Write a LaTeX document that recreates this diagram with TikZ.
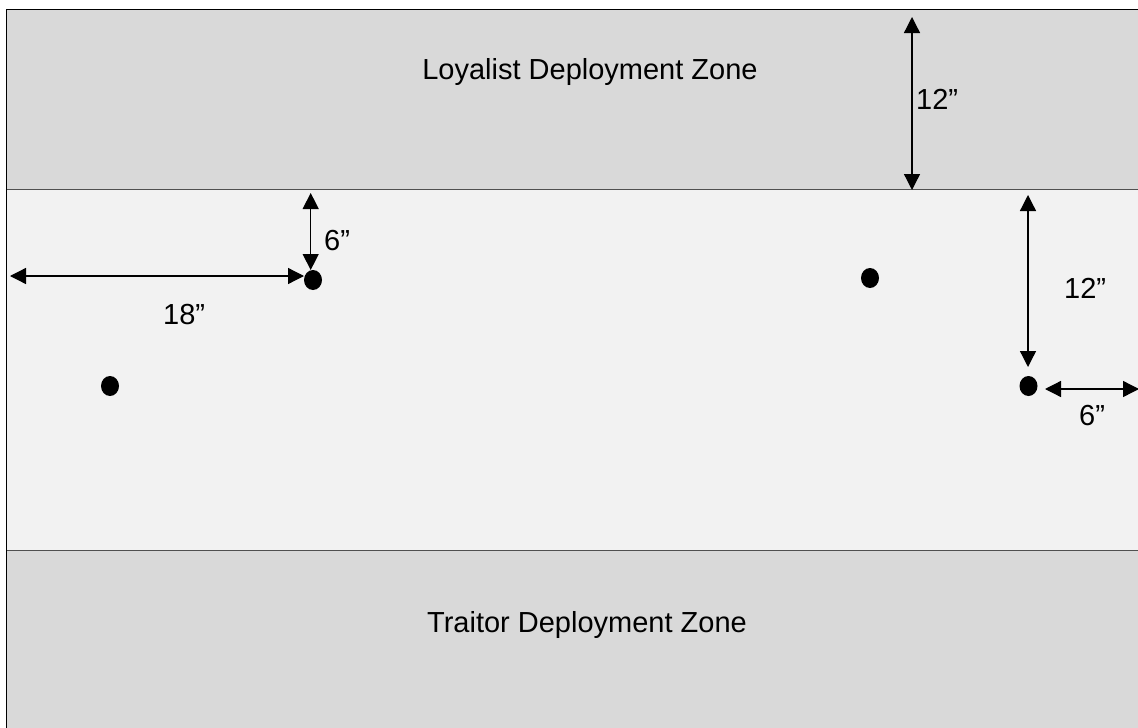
\documentclass[tikz,border=0pt]{standalone}
\usepackage{fontspec}
\setmainfont{Liberation Sans}
\usetikzlibrary{arrows.meta,shapes.geometric}
\definecolor{zonegray}{HTML}{D9D9D9}
\definecolor{fieldgray}{HTML}{F2F2F2}
\definecolor{divgray}{HTML}{505050}
\tikzset{
  lbl/.style={font=\fontsize{29}{34}\selectfont, inner sep=0pt, text=black},
  dim/.style={line width=1.3pt, {Triangle[length=16pt,width=16pt]}-{Triangle[length=16pt,width=16pt]}},
  marker/.style={ellipse, fill=black, minimum width=18pt, minimum height=20pt, inner sep=0pt},
}
\begin{document}
\begin{tikzpicture}[x=1pt,y=-1pt]
\useasboundingbox (0,0) rectangle (1138,728);
\fill[white] (0,0) rectangle (1138,728);
\begin{scope}
\clip (0,0) rectangle (1138,728);
\fill[zonegray] (6.5,9.5) rectangle (1150,189.5);
\fill[fieldgray] (6.5,189.5) rectangle (1150,550.5);
\fill[zonegray] (6.5,550.5) rectangle (1150,740);
\draw[divgray, line width=1.3pt] (6.5,189.5) -- (1150,189.5);
\draw[divgray, line width=1.3pt] (6.5,550.5) -- (1150,550.5);
\draw[black, line width=1.6pt] (6.5,740) -- (6.5,9.5) -- (1150,9.5);

\node[lbl, anchor=base] (loy) at (590,79) {Loyalist Deployment Zone};
\node[lbl, anchor=base] (tra) at (587,632) {Traitor Deployment Zone};

\node[marker] (d1) at (313,280) {};
\node[marker] (d2) at (110,386) {};
\node[marker] (d3) at (870,278) {};
\node[marker] (d4) at (1028.5,386) {};

\coordinate (a1t) at (912,17);
\coordinate (a1b) at (912,190);
\draw[dim] (a1t) -- (a1b);
\node[lbl, anchor=base west] (l1) at (916,109) {12”};

\coordinate (a2t) at (310.7,193);
\coordinate (a2b) at (310.7,270);
\draw[dim] (a2t) -- (a2b);
\node[lbl, anchor=base west] (l2) at (324,250) {6”};

\coordinate (a3l) at (10,276);
\coordinate (a3r) at (304,276);
\draw[dim] (a3l) -- (a3r);
\node[lbl, anchor=base west] (l3) at (163,324) {18”};

\coordinate (a4t) at (1028,195);
\coordinate (a4b) at (1028,367);
\draw[dim] (a4t) -- (a4b);
\node[lbl, anchor=base west] (l4) at (1064,298) {12”};

\coordinate (a5l) at (1045,389);
\coordinate (a5r) at (1139,389);
\draw[dim] (a5l) -- (a5r);
\node[lbl, anchor=base west] (l5) at (1079,425) {6”};
\end{scope}
\end{tikzpicture}
\end{document}
